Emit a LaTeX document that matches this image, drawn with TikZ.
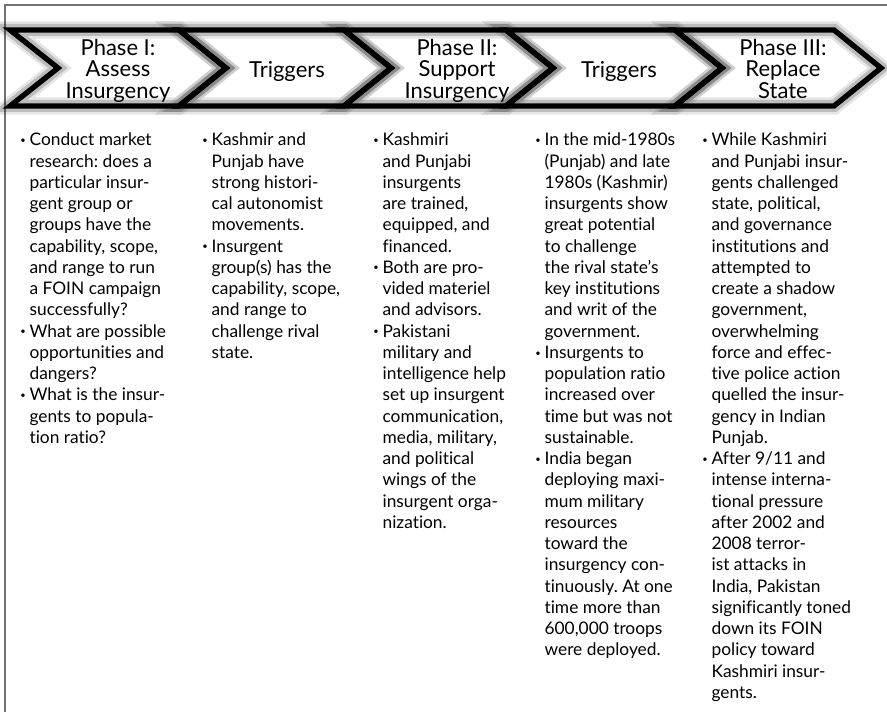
\documentclass[tikz,border=0pt]{standalone}
\usepackage{fontspec}
\setmainfont{Lato}[Ligatures=NoCommon]
\usepackage{tikz}
\frenchspacing
\newcommand\bul{\makebox[7pt][l]{\raisebox{1.8pt}{\fontsize{7}{7}\selectfont\textbullet}}}
\newcommand\ind{\hspace*{7pt}}
\newcommand\bstrut{\rule{0pt}{12pt}}
\newcommand\hstrut{\rule{0pt}{13pt}}
\tikzset{
  chev/.style={draw=black, line width=4pt,
    preaction={draw, line width=13pt, draw opacity=0.1},
    preaction={draw, line width=9pt, draw opacity=0.18}},
  head/.style={anchor=north, align=center, inner sep=0pt,
    font=\fontsize{16.5}{16.1}\selectfont},
  col/.style={anchor=north west, align=left, inner sep=0pt,
    font=\fontsize{13}{15.94}\selectfont}
}

\begin{document}
\begin{tikzpicture}[x=0.75pt, y=-0.75pt]
    \useasboundingbox (0,0) rectangle (887,712);

    \coordinate (FrameB) at (5, 712);
    \coordinate (FrameC) at (5, 5);
    \coordinate (FrameR) at (887, 5);

    \coordinate (Top0) at (10, 30);
    \coordinate (Top1) at (179, 30);
    \coordinate (Top2) at (344, 30);
    \coordinate (Top3) at (506, 30);
    \coordinate (Top4) at (675, 30);
    \coordinate (Top5) at (834, 30);

    \coordinate (Tip0) at (58, 68);
    \coordinate (Tip1) at (226, 68);
    \coordinate (Tip2) at (391, 68);
    \coordinate (Tip3) at (553, 68);
    \coordinate (Tip4) at (722, 68);
    \coordinate (Tip5) at (881, 68);

    \coordinate (Bot0) at (10, 106);
    \coordinate (Bot1) at (179, 106);
    \coordinate (Bot2) at (344, 106);
    \coordinate (Bot3) at (506, 106);
    \coordinate (Bot4) at (675, 106);
    \coordinate (Bot5) at (834, 106);

    \coordinate (HeadI) at (118, 37.7);
    \coordinate (HeadT) at (287, 59.7);
    \coordinate (HeadII) at (457, 37.7);
    \coordinate (HeadTT) at (619, 59.7);
    \coordinate (HeadIII) at (783, 37.7);

    \coordinate (ColI) at (20, 129.6);
    \coordinate (ColT) at (202, 129.6);
    \coordinate (ColII) at (373, 129.6);
    \coordinate (ColTT) at (535, 129.6);
    \coordinate (ColIII) at (702, 129.6);

    % frame
    \draw[black!55, line width=1.5pt] (FrameB) -- (FrameC) -- (FrameR);

    % chevrons
    \draw[chev] (Top0) -- (Top1) -- (Tip1) -- (Bot1) -- (Bot0) -- (Tip0) -- cycle;
    \draw[chev] (Top1) -- (Top2) -- (Tip2) -- (Bot2) -- (Bot1) -- (Tip1) -- cycle;
    \draw[chev] (Top2) -- (Top3) -- (Tip3) -- (Bot3) -- (Bot2) -- (Tip2) -- cycle;
    \draw[chev] (Top3) -- (Top4) -- (Tip4) -- (Bot4) -- (Bot3) -- (Tip3) -- cycle;
    \draw[chev] (Top4) -- (Top5) -- (Tip5) -- (Bot5) -- (Bot4) -- (Tip4) -- cycle;

    \node[head] (phaseI) at (HeadI) {\hstrut Phase I:\\Assess\\Insurgency};
    \node[head] (trigI) at (HeadT) {\hstrut Triggers};
    \node[head] (phaseII) at (HeadII) {\hstrut Phase II:\\Support\\Insurgency};
    \node[head] (trigII) at (HeadTT) {\hstrut Triggers};
    \node[head] (phaseIII) at (HeadIII) {\hstrut Phase III:\\Replace\\State};

    \node[col] (assess) at (ColI) {\bul\bstrut Conduct market\\
      \ind research: does a\\
      \ind particular insur-\\
      \ind gent group or\\
      \ind groups have the\\
      \ind capability, scope,\\
      \ind and range to run\\
      \ind a FOIN campaign\\
      \ind successfully?\\
      \bul What are possible\\
      \ind opportunities and\\
      \ind dangers?\\
      \bul What is the insur-\\
      \ind gents to popula-\\
      \ind tion ratio?};

    \node[col] (trigIlist) at (ColT) {\bul\bstrut Kashmir and\\
      \ind Punjab have\\
      \ind strong histori-\\
      \ind cal autonomist\\
      \ind movements.\\
      \bul Insurgent\\
      \ind group(s) has the\\
      \ind capability, scope,\\
      \ind and range to\\
      \ind challenge rival\\
      \ind state.};

    \node[col] (support) at (ColII) {\bul\bstrut Kashmiri\\
      \ind and Punjabi\\
      \ind insurgents\\
      \ind are trained,\\
      \ind equipped, and\\
      \ind financed.\\
      \bul Both are pro-\\
      \ind vided materiel\\
      \ind and advisors.\\
      \bul Pakistani\\
      \ind military and\\
      \ind intelligence help\\
      \ind set up insurgent\\
      \ind communication,\\
      \ind media, military,\\
      \ind and political\\
      \ind wings of the\\
      \ind insurgent orga-\\
      \ind nization.};

    \node[col] (trigIIlist) at (ColTT) {\bul\bstrut In the mid-1980s\\
      \ind (Punjab) and late\\
      \ind 1980s (Kashmir)\\
      \ind insurgents show\\
      \ind great potential\\
      \ind to challenge\\
      \ind the rival state’s\\
      \ind key institutions\\
      \ind and writ of the\\
      \ind government.\\
      \bul Insurgents to\\
      \ind population ratio\\
      \ind increased over\\
      \ind time but was not\\
      \ind sustainable.\\
      \bul India began\\
      \ind deploying maxi-\\
      \ind mum military\\
      \ind resources\\
      \ind toward the\\
      \ind insurgency con-\\
      \ind tinuously. At one\\
      \ind time more than\\
      \ind 600,000 troops\\
      \ind were deployed.};

    \node[col] (replace) at (ColIII) {\bul\bstrut While Kashmiri\\
      \ind and Punjabi insur-\\
      \ind gents challenged\\
      \ind state, political,\\
      \ind and governance\\
      \ind institutions and\\
      \ind attempted to\\
      \ind create a shadow\\
      \ind government,\\
      \ind overwhelming\\
      \ind force and effec-\\
      \ind tive police action\\
      \ind quelled the insur-\\
      \ind gency in Indian\\
      \ind Punjab.\\
      \bul After 9/11 and\\
      \ind intense interna-\\
      \ind tional pressure\\
      \ind after 2002 and\\
      \ind 2008 terror-\\
      \ind ist attacks in\\
      \ind India, Pakistan\\
      \ind significantly toned\\
      \ind down its FOIN\\
      \ind policy toward\\
      \ind Kashmiri insur-\\
      \ind gents.};
  \end{tikzpicture}
\end{document}
